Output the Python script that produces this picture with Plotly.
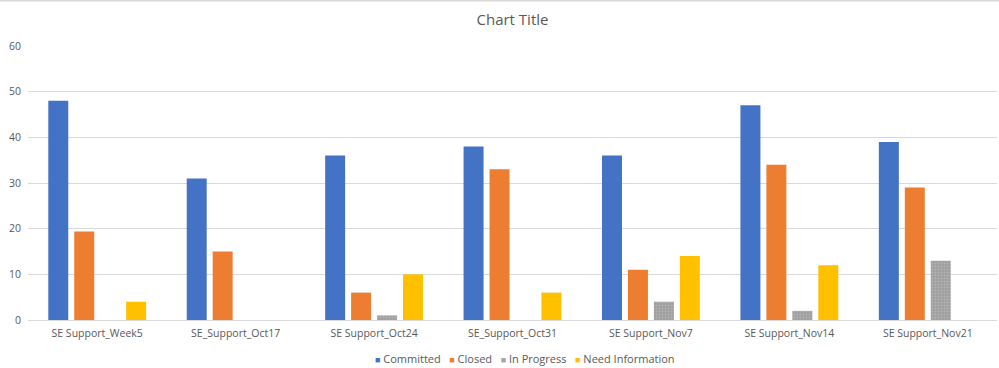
import plotly.graph_objects as go

categories = ["SE Support_Week5", "SE_Support_Oct17", "SE Support_Oct24", "SE_Support_Oct31",
              "SE Support_Nov7", "SE Support_Nov14", "SE Support_Nov21"]
committed = [48, 31, 36, 38, 36, 47, 39]
closed = [19.4, 15, 6, 33, 11, 34, 29]
in_progress = [0, 0, 1, 0, 4, 2, 13]
need_info = [4, 0, 10, 6, 14, 12, 0]
y_ticks = [0, 10, 20, 30, 40, 50, 60]

series = [
    ("Committed", committed, "#4472C4"),
    ("Closed", closed, "#ED7D31"),
    ("In Progress", in_progress, "#A5A5A5"),
    ("Need Information", need_info, "#FFC000"),
]

fig = go.Figure()
for name, vals, col in series:
    marker = dict(color=col, line=dict(width=0))
    if name == "In Progress":
        marker["pattern"] = dict(shape=".", fgcolor="#C8C8C8", bgcolor="#9E9E9E", size=3, solidity=0.4)
    fig.add_trace(go.Bar(name=name, x=categories, y=vals, marker=marker, showlegend=False))

legend_text = "&nbsp;&nbsp;&nbsp;".join(
    f"<span style='color:{col};font-size:9px'>■</span> {name}" for name, _, col in series
)

fig.update_layout(
    width=999, height=368,
    margin=dict(l=28, r=2, t=46, b=48, autoexpand=False),
    paper_bgcolor="white", plot_bgcolor="white",
    barmode="group", bargap=0.25, bargroupgap=0.23,
    title=dict(text="Chart Title", x=0.513, xanchor="center", y=0.945, yanchor="middle",
               font=dict(family="Open Sans", size=15, color="#595959")),
    font=dict(family="Open Sans", size=11, color="#595959"),
    xaxis=dict(showgrid=False, showline=False, ticks="", automargin=False, ticklabelstandoff=5,
               tickfont=dict(size=10.5, color="#595959")),
    yaxis=dict(range=[0, 60], tickvals=y_ticks, showgrid=True, gridcolor="#D9D9D9", gridwidth=1,
               zeroline=True, zerolinecolor="#D9D9D9", zerolinewidth=1, showline=False, ticks="",
               automargin=False, ticklabelstandoff=6, tickfont=dict(size=10.5, color="#595959")),
    annotations=[dict(text=legend_text, xref="paper", yref="paper", x=0.513, y=-0.139,
                      xanchor="center", yanchor="middle", showarrow=False,
                      font=dict(size=11, color="#595959"))],
    shapes=[dict(type="line", xref="paper", yref="paper", x0=-0.03, x1=1.01, y0=1.166, y1=1.166,
                 line=dict(color="#D9D9D9", width=2))],
)

fig.write_html("out.html", config={"displayModeBar": False},
               post_script="document.body.style.margin='0';document.body.style.overflow='hidden';")
